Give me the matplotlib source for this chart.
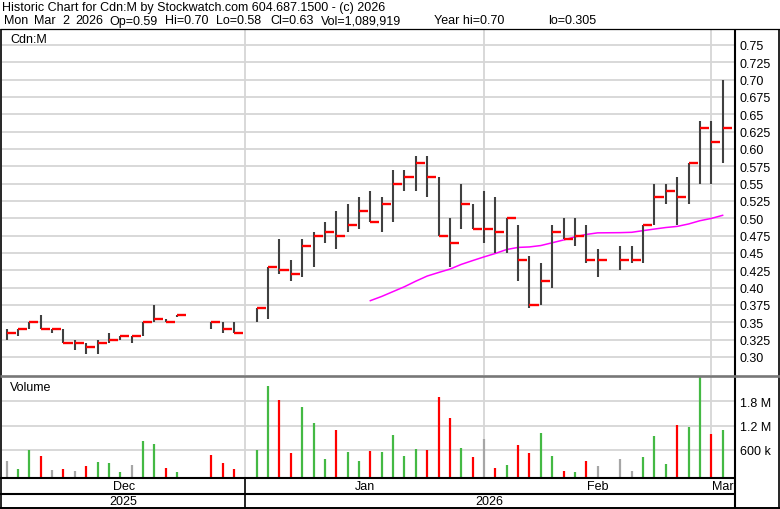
import numpy as np
import matplotlib
matplotlib.use("Agg")
import matplotlib.pyplot as plt
from matplotlib.transforms import blended_transform_factory

plt.rcParams['font.family'] = ['Liberation Sans', 'DejaVu Sans']

# trading-day slot index (weekdays from Dec 3 2025, holidays leave gaps)
day = [0, 1, 2, 3, 4, 5, 6, 7, 8, 9, 10, 11, 12, 13, 14, 15, 18, 19, 20,
       22, 23, 24, 25, 26, 27, 28, 29, 30, 31, 32, 33, 34, 35, 36, 37, 38,
       39, 40, 41, 42, 43, 44, 45, 46, 47, 48, 49, 50, 51, 52,
       54, 55, 56, 57, 58, 59, 60, 61, 62, 63]
high = [0.34, 0.34, 0.35, 0.36, 0.34, 0.34, 0.325, 0.32, 0.325, 0.335, 0.33, 0.33,
        0.35, 0.375, 0.355, 0.36, 0.35, 0.35, 0.35,
        0.37, 0.43, 0.47, 0.44, 0.47, 0.48, 0.495, 0.51, 0.52, 0.53, 0.54, 0.53,
        0.57, 0.57, 0.59, 0.59, 0.56, 0.50, 0.55, 0.52, 0.54, 0.53, 0.50, 0.49,
        0.445, 0.435, 0.49, 0.50, 0.50, 0.49, 0.455,
        0.46, 0.46, 0.49, 0.55, 0.55, 0.56, 0.58, 0.64, 0.64, 0.70]
low = [0.325, 0.33, 0.34, 0.34, 0.335, 0.32, 0.31, 0.305, 0.305, 0.32, 0.325, 0.32,
       0.33, 0.35, 0.35, 0.358, 0.34, 0.335, 0.335,
       0.35, 0.355, 0.42, 0.41, 0.415, 0.43, 0.465, 0.455, 0.48, 0.485, 0.495, 0.48,
       0.495, 0.54, 0.54, 0.53, 0.475, 0.43, 0.485, 0.485, 0.465, 0.45, 0.45, 0.41,
       0.37, 0.375, 0.40, 0.47, 0.46, 0.435, 0.415,
       0.425, 0.435, 0.435, 0.49, 0.52, 0.49, 0.52, 0.55, 0.55, 0.58]
close = [0.335, 0.34, 0.35, 0.34, 0.34, 0.32, 0.32, 0.315, 0.32, 0.325, 0.33, 0.33,
         0.35, 0.355, 0.35, 0.36, 0.35, 0.34, 0.335,
         0.37, 0.43, 0.425, 0.42, 0.46, 0.475, 0.48, 0.475, 0.49, 0.51, 0.495, 0.52,
         0.55, 0.56, 0.58, 0.56, 0.475, 0.465, 0.52, 0.485, 0.485, 0.48, 0.50, 0.44,
         0.375, 0.41, 0.48, 0.47, 0.475, 0.44, 0.44,
         0.44, 0.44, 0.49, 0.53, 0.54, 0.53, 0.58, 0.63, 0.61, 0.63]
vol_m = [0.32, 0.14, 0.60, 0.445, 0.115, 0.14, 0.075, 0.205, 0.30, 0.28, 0.05, 0.24,
         0.81, 0.76, 0.165, 0.05, 0.47, 0.28, 0.14,
         0.60, 2.17, 1.83, 0.52, 1.65, 1.27, 0.37, 1.09, 0.56, 0.32, 0.58, 0.56,
         0.98, 0.45, 0.62, 0.60, 1.90, 1.39, 0.65, 0.42, 0.88, 0.165, 0.24, 0.72,
         0.53, 1.01, 0.445, 0.075, 0.05, 0.32, 0.205,
         0.37, 0.09, 0.42, 0.95, 0.255, 1.21, 1.17, 2.41, 0.99, 1.09]
# 30-day moving average line (magenta), starts at day 32
ma30 = [0.3812, 0.3873, 0.3943, 0.4013, 0.4093, 0.4167, 0.4218, 0.4267, 0.4335,
        0.4390, 0.4443, 0.4493, 0.4550, 0.4580, 0.4587, 0.4607, 0.4647, 0.4687,
        0.4732, 0.4767, 0.4790, 0.4793, 0.4798, 0.4822, 0.4845, 0.4867, 0.4883,
        0.4918, 0.4965, 0.4998, 0.5043]
ma_day = day[29:]

price_ticks = [0.30, 0.325, 0.35, 0.375, 0.40, 0.425, 0.45, 0.475, 0.50, 0.525,
               0.55, 0.575, 0.60, 0.625, 0.65, 0.675, 0.70, 0.725, 0.75]
price_labels = ['0.30', '0.325', '0.35', '0.375', '0.40', '0.425', '0.45', '0.475',
                '0.50', '0.525', '0.55', '0.575', '0.60', '0.625', '0.65', '0.675',
                '0.70', '0.725', '0.75']
vol_ticks = [0.6, 1.2, 1.8]
vol_labels = ['600 k', '1.2 M', '1.8 M']
month_lines = [21, 42, 62]
month_names = ['Dec', 'Jan', 'Feb', 'Mar']
year_names = ['2025', '2026']

header1 = "Historic Chart for Cdn:M by Stockwatch.com 604.687.1500 - (c) 2026"
header2 = ['Mon', 'Mar', '2', '2026', 'Op=0.59', 'Hi=0.70', 'Lo=0.58', 'Cl=0.63',
           'Vol=1,089,919', 'Year hi=0.70', 'lo=0.305']
header2_x = [4, 34, 62, 75, 109, 165, 216, 270, 321, 434, 548]

W, H = 780, 510
FS = 9.0
fig = plt.figure(figsize=(W / 100, H / 100), dpi=100)


def px_axes(x0, y0, x1, y1):
    return fig.add_axes([x0 / W, 1 - y1 / H, (x1 - x0) / W, (y1 - y0) / H])


xlo, xhi = -0.41, 64.0
grid_c = '#d6d6d6'

# price panel
ax = px_axes(2, 30, 734, 376)
ax.set_xlim(xlo, xhi)
ax.set_ylim(0.274, 0.773)
ax.set_yticks(price_ticks)
ax.set_yticklabels(price_labels)
ax.set_xticks(month_lines)
ax.xaxis.set_ticklabels([])
ax.yaxis.tick_right()
ax.tick_params(length=0, labelsize=FS, pad=4.3)
ax.grid(True, color=grid_c, lw=1.3)
ax.set_axisbelow(True)
for s in ax.spines.values():
    s.set_visible(False)

day_a = np.array(day)
ax.vlines(day_a, low, high, color='#404040', lw=1.5, zorder=3)
ax.hlines(close, day_a, day_a + 0.8, color='#ff0000', lw=1.7, zorder=4)
ax.plot(ma_day, ma30, color='#ff00ff', lw=1.1, zorder=2)
ax.text(8 / 732, 1 - 10 / 346, 'Cdn:M', transform=ax.transAxes, fontsize=FS,
        va='center', ha='left')

# volume panel
vax = px_axes(2, 377, 734, 478)
vlo = -0.0653
vax.set_xlim(xlo, xhi)
vax.set_ylim(vlo, 2.4234)
vax.set_yticks(vol_ticks)
vax.set_yticklabels(vol_labels)
vax.set_xticks(month_lines)
vax.xaxis.set_ticklabels([])
vax.yaxis.tick_right()
vax.tick_params(length=0, labelsize=FS, pad=4.3)
vax.grid(True, color=grid_c, lw=1.3)
vax.set_axisbelow(True)
for s in vax.spines.values():
    s.set_visible(False)

chg = np.sign(np.diff(np.array(close)))
vcol = ['#a6a6a6'] + [{1: '#44b944', -1: '#ff0000', 0: '#a6a6a6'}[int(c)] for c in chg]
vax.vlines(day_a, vlo, vol_m, colors=vcol, lw=1.6, zorder=3)
vax.text(8 / 732, 1 - 11 / 101, 'Volume', transform=vax.transAxes, fontsize=FS,
         va='center', ha='left')

# month / year band
bax = px_axes(2, 479, 734, 508)
bax.set_xlim(xlo, xhi)
bax.set_ylim(0, 1)
bax.axis('off')
tr = blended_transform_factory(bax.transData, bax.transAxes)
edges = [xlo] + month_lines + [xhi]
for i, name in enumerate(month_names):
    bax.text((edges[i] + edges[i + 1]) / 2, 0.72, name, transform=tr,
             fontsize=FS, ha='center', va='center', clip_on=True)
yedges = [xlo, month_lines[0], xhi]
for i, name in enumerate(year_names):
    bax.text((yedges[i] + yedges[i + 1]) / 2, 0.22, name, transform=tr,
             fontsize=FS, ha='center', va='center')
bax.plot([month_lines[0], month_lines[0]], [0, 1], color='black', lw=1.2,
         transform=tr, clip_on=False)

# frame and header
fr = fig.add_axes([0, 0, 1, 1], zorder=10)
fr.set_xlim(0, W)
fr.set_ylim(H, 0)
fr.axis('off')
fr.patch.set_alpha(0)
k = dict(color='black', solid_capstyle='butt')
fr.plot([0, W], [29.5, 29.5], lw=0.9, **k)
fr.plot([0.8, 0.8], [29.5, 509], lw=1.2, **k)
fr.plot([779, 779], [29.5, 509], lw=1.2, **k)
fr.plot([0, W], [508.5, 508.5], lw=1.4, **k)
fr.plot([734.5, 734.5], [29.5, 509], lw=1.5, **k)
fr.plot([0, W], [377, 377], color='#777777', lw=1.9, solid_capstyle='butt')
fr.plot([0, 734.5], [478.8, 478.8], lw=1.5, **k)
fr.plot([0, 734.5], [494.8, 494.8], lw=1.5, **k)
fr.text(2, 7.5, header1, fontsize=FS, va='center', ha='left')
for x, t in zip(header2_x, header2):
    fr.text(x, 21.5, t, fontsize=FS, va='center', ha='left')

fig.savefig('out.png', dpi=100)
